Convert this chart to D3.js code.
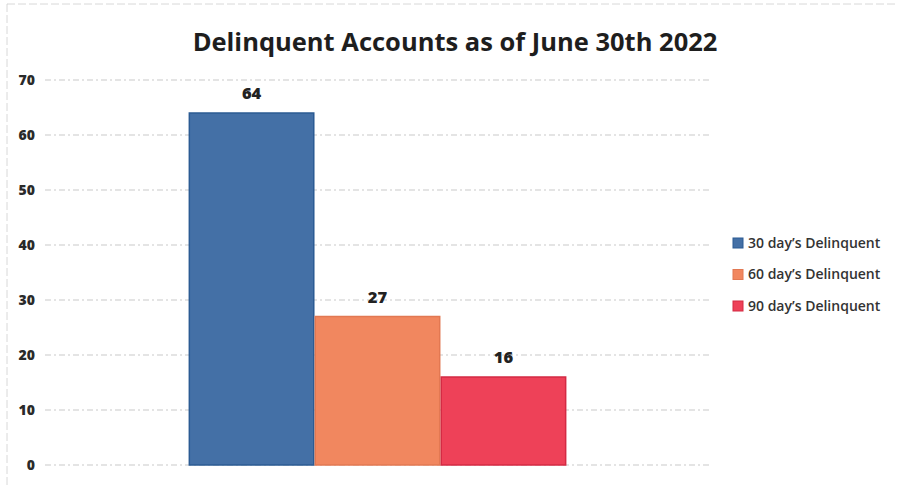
<!DOCTYPE html>
<html lang="en">
<head>
<meta charset="utf-8">
<title>Delinquent Accounts</title>
<script src="https://d3js.org/d3.v7.min.js"></script>
<style>
  body { margin: 0; background: #fff; }
  .grid line { stroke: #c9c9c9; stroke-width: 1; stroke-dasharray: 6 3 2 3; }
  .ylab { font-family: "Open Sans", sans-serif; font-weight: 800; font-size: 14px; fill: #2a2a2a; }
</style>
</head>
<body>
<div id="chart"></div>
<script>
// chart data
var title = "Delinquent Accounts as of June 30th 2022";
var series = ["30 day\u2019s Delinquent", "60 day\u2019s Delinquent", "90 day\u2019s Delinquent"];
var values = [64, 27, 16];
var colors = ["#4470a6", "#f1875f", "#ee4158"];
var strokes = ["#2b5b93", "#e27852", "#d42a43"];
var yTicks = [0, 10, 20, 30, 40, 50, 60, 70];

var w = 897, h = 487;
var svg = d3.select("#chart").append("svg")
  .attr("width", w).attr("height", h);

// faint frame of the scanned chart
svg.append("rect")
  .attr("x", 7).attr("y", 4).attr("width", w - 4).attr("height", h + 10)
  .attr("fill", "none").attr("stroke", "#d8d8d8").attr("stroke-dasharray", "8 3");

var plotLeft = 45, plotRight = 710, plotTop = 80, plotBottom = 465;

var y = d3.scaleLinear().domain([0, 70]).range([plotBottom, plotTop]);

// one category, three series side by side
var x0 = d3.scaleBand().domain(["all"]).range([plotLeft, plotRight]).paddingOuter(0.38).paddingInner(0);
var x1 = d3.scaleBand().domain(series).range([0, x0.bandwidth()]);

// gridlines
svg.append("g").attr("class", "grid")
  .selectAll("line").data(yTicks).enter().append("line")
  .attr("x1", plotLeft).attr("x2", plotRight)
  .attr("y1", d => y(d)).attr("y2", d => y(d));

// y tick labels
svg.selectAll("text.ylab").data(yTicks).enter().append("text")
  .attr("class", "ylab")
  .attr("x", 35).attr("y", d => y(d))
  .attr("dy", "0.35em").attr("text-anchor", "end")
  .text(d => d);

// bars
svg.selectAll("rect.bar").data(values).enter().append("rect")
  .attr("class", "bar")
  .attr("x", (d, i) => x0("all") + x1(series[i]) + 0.75)
  .attr("y", d => y(d))
  .attr("width", x1.bandwidth() - 1.5)
  .attr("height", d => plotBottom - y(d))
  .attr("fill", (d, i) => colors[i])
  .attr("stroke", (d, i) => strokes[i])
  .attr("stroke-width", 1.5);

// value labels
svg.selectAll("text.val").data(values).enter().append("text")
  .attr("class", "val")
  .attr("x", (d, i) => x0("all") + x1(series[i]) + x1.bandwidth() / 2)
  .attr("y", d => y(d) - 14)
  .attr("text-anchor", "middle")
  .style("font-family", "'Open Sans', sans-serif")
  .style("font-weight", 800)
  .style("font-size", "16.5px")
  .style("fill", "#222")
  .text(d => d);

// title
svg.append("text")
  .attr("x", 455).attr("y", 51)
  .attr("text-anchor", "middle")
  .style("font-family", "'Open Sans', sans-serif")
  .style("font-weight", 700)
  .style("font-size", "25.5px")
  .style("fill", "#1e1e1e")
  .text(title);

// legend
var legend = svg.selectAll("g.leg").data(series).enter().append("g")
  .attr("class", "leg")
  .attr("transform", (d, i) => "translate(733," + (243 + i * 31.5) + ")");
legend.append("rect")
  .attr("x", 0).attr("y", -5).attr("width", 10).attr("height", 10)
  .attr("fill", (d, i) => colors[i])
  .attr("stroke", (d, i) => strokes[i]);
legend.append("text")
  .attr("x", 15).attr("dy", "0.35em")
  .style("font-family", "'Open Sans', sans-serif")
  .style("font-weight", 600)
  .style("font-size", "14px")
  .style("fill", "#333")
  .text(d => d);
</script>
</body>
</html>
